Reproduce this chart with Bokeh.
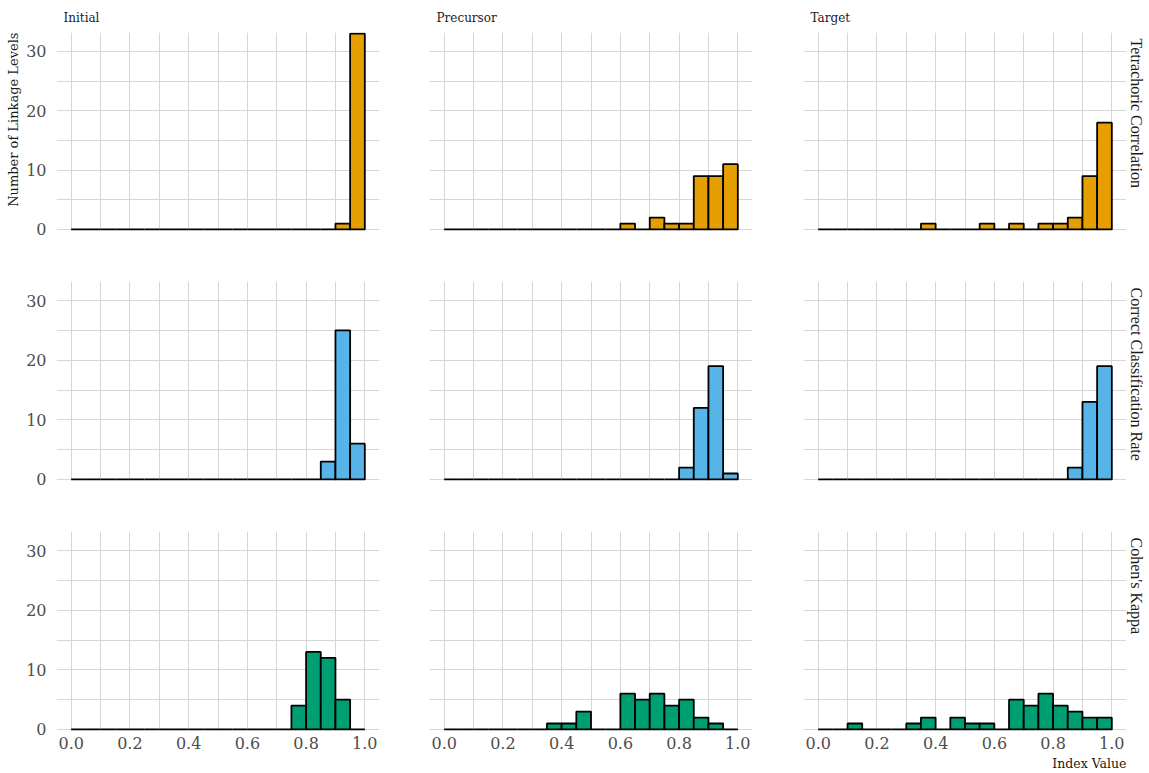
import numpy as np
from bokeh.plotting import figure
from bokeh.models import Range1d, FixedTicker, Title, PrintfTickFormatter, ColumnDataSource
from bokeh.layouts import column, row
from bokeh.embed import file_html
from bokeh.resources import INLINE

# ---- data -------------------------------------------------------------
methods = ["Initial", "Precursor", "Target"]
indices = ["Tetrachoric Correlation", "Correct Classification Rate", "Cohen's Kappa"]
fill_colors = ["#E69F00", "#56B4E9", "#009E73"]

bin_width = 0.05
n_bins = 20

# counts per 0.05-wide bin, 0.00 ... 1.00
tetra_initial   = [0, 0, 0, 0, 0, 0, 0, 0, 0, 0, 0, 0, 0, 0, 0, 0, 0, 0, 1, 33]
tetra_precursor = [0, 0, 0, 0, 0, 0, 0, 0, 0, 0, 0, 0, 1, 0, 2, 1, 1, 9, 9, 11]
tetra_target    = [0, 0, 0, 0, 0, 0, 0, 1, 0, 0, 0, 1, 0, 1, 0, 1, 1, 2, 9, 18]

ccr_initial   = [0, 0, 0, 0, 0, 0, 0, 0, 0, 0, 0, 0, 0, 0, 0, 0, 0, 3, 25, 6]
ccr_precursor = [0, 0, 0, 0, 0, 0, 0, 0, 0, 0, 0, 0, 0, 0, 0, 0, 2, 12, 19, 1]
ccr_target    = [0, 0, 0, 0, 0, 0, 0, 0, 0, 0, 0, 0, 0, 0, 0, 0, 0, 2, 13, 19]

kappa_initial   = [0, 0, 0, 0, 0, 0, 0, 0, 0, 0, 0, 0, 0, 0, 0, 4, 13, 12, 5, 0]
kappa_precursor = [0, 0, 0, 0, 0, 0, 0, 1, 1, 3, 0, 0, 6, 5, 6, 4, 5, 2, 1, 0]
kappa_target    = [0, 0, 1, 0, 0, 0, 1, 2, 0, 2, 1, 1, 0, 5, 4, 6, 4, 3, 2, 2]

counts = [
    [tetra_initial, tetra_precursor, tetra_target],
    [ccr_initial, ccr_precursor, ccr_target],
    [kappa_initial, kappa_precursor, kappa_target],
]

x_ticks = [0.0, 0.2, 0.4, 0.6, 0.8, 1.0]
x_minor = [0.1, 0.3, 0.5, 0.7, 0.9]
y_ticks = [0, 10, 20, 30]
y_minor = [5, 15, 25]

# ---- styling ----------------------------------------------------------
FONT = "DejaVu Serif"
STRIP_FONT = "Liberation Serif"
GRID = "#d6d6d6"
TICK_COLOR = "#4d4d4d"
TEXT_COLOR = "#1a1a1a"

edges = np.arange(n_bins + 1) * bin_width
lefts = edges[:-1]
rights = edges[1:]

col_left = [56, 48, 49]
col_right = [2, 2, 22]
row_top = [32, 41, 41]
row_bottom = [10, 10, 43]
row_frame_h = [198, 199, 199]

rows = []
for r in range(3):
    figs = []
    for c in range(3):
        kw = dict(
            frame_width=323,
            frame_height=row_frame_h[r],
            x_range=Range1d(-0.05, 1.05),
            y_range=Range1d(-0.17, 33.2),
            output_backend="svg",
            toolbar_location=None,
            x_axis_location="below" if r == 2 else None,
            y_axis_location="left" if c == 0 else None,
            min_border_left=col_left[c],
            min_border_right=col_right[c],
            min_border_top=row_top[r],
            min_border_bottom=row_bottom[r],
            outline_line_color=None,
            background_fill_color="white",
            border_fill_color="white",
        )
        if r == 0:
            kw["title"] = methods[c]
        else:
            kw["title_location"] = None
        p = figure(**kw)

        if r == 0:
            p.title.align = "left"
            p.title.offset = 7
            p.title.text_font = FONT
            p.title.text_font_size = "12px"
            p.title.text_font_style = "normal"
            p.title.text_color = TEXT_COLOR
            p.title.standoff = 16

        xt = FixedTicker(ticks=x_ticks, minor_ticks=x_minor)
        yt = FixedTicker(ticks=y_ticks, minor_ticks=y_minor)
        p.xgrid.ticker = xt
        p.ygrid.ticker = yt
        for g in (p.xgrid, p.ygrid):
            g.grid_line_color = GRID
            g.grid_line_width = 1
            g.minor_grid_line_color = GRID
            g.minor_grid_line_width = 1

        if r == 2:
            ax = p.xaxis[0]
            ax.ticker = xt
            ax.formatter = PrintfTickFormatter(format="%.1f")
            ax.axis_line_color = None
            ax.major_tick_line_color = None
            ax.minor_tick_line_color = None
            ax.major_label_text_font = FONT
            ax.major_label_text_font_size = "16px"
            ax.major_label_text_color = TICK_COLOR
            ax.major_label_standoff = 0
        if c == 0:
            ay = p.yaxis[0]
            ay.ticker = yt
            ay.formatter = PrintfTickFormatter(format="%d")
            ay.axis_line_color = None
            ay.major_tick_line_color = None
            ay.minor_tick_line_color = None
            ay.major_label_text_font = FONT
            ay.major_label_text_font_size = "16px"
            ay.major_label_text_color = TICK_COLOR
            ay.major_label_standoff = 4

        src = ColumnDataSource(dict(left=lefts, right=rights, top=counts[r][c]))
        p.quad(left="left", right="right", bottom=0, top="top", source=src,
               fill_color=fill_colors[r], line_color="black", line_width=1.8)

        if r == 0 and c == 0:
            p.add_layout(Title(text="Number of Linkage Levels", align="right", offset=0,
                               text_font=FONT, text_font_size="13px", text_font_style="normal",
                               text_color=TEXT_COLOR, standoff=6), "left")
        if c == 2:
            p.add_layout(Title(text=indices[r], align="left", offset=6,
                               vertical_align="middle",
                               text_font=STRIP_FONT, text_font_size="16px",
                               text_font_style="normal", text_color=TEXT_COLOR, standoff=0), "right")
        if r == 2 and c == 2:
            p.add_layout(Title(text="Index Value", align="right", offset=0,
                               text_font=FONT, text_font_size="12.5px", text_font_style="normal",
                               text_color=TEXT_COLOR, standoff=4), "below")
        figs.append(p)
    rows.append(row(*figs, spacing=0))

layout = column(*rows, spacing=0)

with open("out.html", "w") as f:
    f.write(file_html(layout, INLINE))
